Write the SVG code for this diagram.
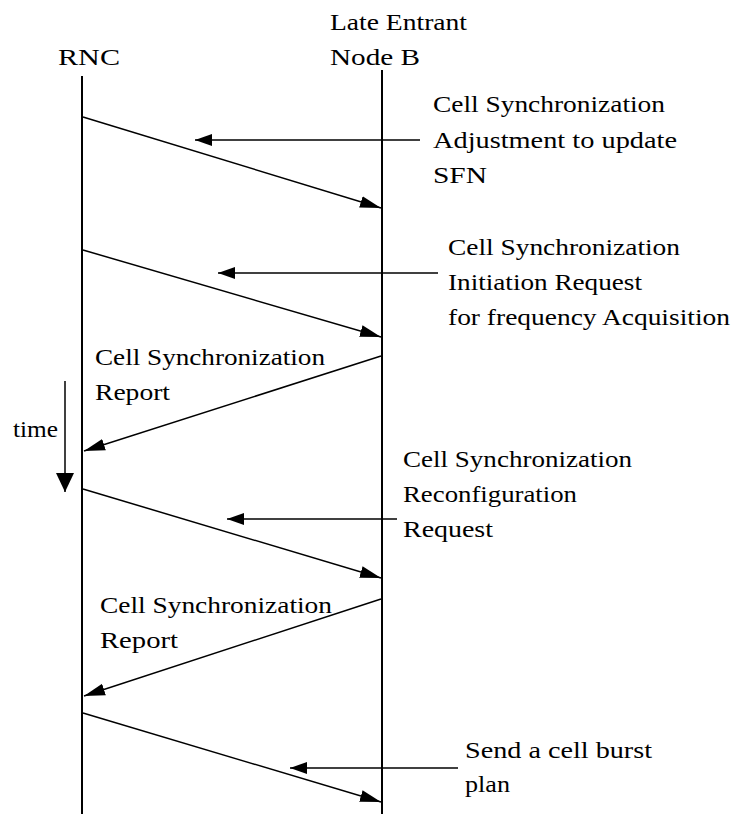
<svg xmlns="http://www.w3.org/2000/svg" width="733" height="814" viewBox="0 0 733 814">
  <defs>
    <style>
      text { font-family: "Liberation Serif", "Times New Roman", "DejaVu Serif", serif; font-size: 24px; fill: #000; }
      .life { stroke: #000; stroke-width: 2; fill: none; }
      .msg { stroke: #000; stroke-width: 1.5; fill: none; marker-end: url(#head); }
      .lbl { stroke: #000; stroke-width: 1.5; fill: none; marker-end: url(#lhead); }
      .time { stroke: #000; stroke-width: 1.5; fill: none; marker-end: url(#thead); }
    </style>
    <marker id="head" markerUnits="userSpaceOnUse" markerWidth="22" markerHeight="14" refX="21" refY="7" orient="auto">
      <path d="M0,1 L21,7 L0,13 Z" fill="#000"/>
    </marker>
    <marker id="lhead" markerUnits="userSpaceOnUse" markerWidth="18" markerHeight="14" refX="17" refY="7" orient="auto">
      <path d="M0,1 L17,7 L0,13 Z" fill="#000"/>
    </marker>
    <marker id="thead" markerUnits="userSpaceOnUse" markerWidth="20" markerHeight="20" refX="19" refY="9" orient="auto">
      <path d="M0,0 L19,9 L0,18 Z" fill="#000"/>
    </marker>
  </defs>

  <rect width="733" height="814" fill="#fff"/>

  <!-- participants -->
  <g id="rnc">
    <text x="58" y="65" textLength="62" lengthAdjust="spacingAndGlyphs">RNC</text>
    <line class="life" x1="82" y1="76" x2="82" y2="814"/>
  </g>
  <g id="node-b">
    <text x="330" y="30" textLength="137" lengthAdjust="spacingAndGlyphs">Late Entrant</text>
    <text x="330" y="65" textLength="90" lengthAdjust="spacingAndGlyphs">Node B</text>
    <line class="life" x1="382" y1="70" x2="382" y2="814"/>
  </g>

  <!-- time axis -->
  <g id="time-axis">
    <text x="13" y="437" textLength="45" lengthAdjust="spacingAndGlyphs">time</text>
    <line class="time" x1="65" y1="381" x2="65" y2="492"/>
  </g>

  <!-- messages -->
  <g id="connectors">
    <line class="msg" x1="83" y1="117" x2="381" y2="208"/>
    <line class="msg" x1="83" y1="250" x2="381" y2="337"/>
    <line class="msg" x1="381" y1="356" x2="84" y2="451"/>
    <line class="msg" x1="83" y1="489" x2="381" y2="578"/>
    <line class="msg" x1="381" y1="599" x2="84" y2="696"/>
    <line class="msg" x1="83" y1="713" x2="381" y2="802"/>

    <line class="lbl" x1="420" y1="140" x2="195" y2="140"/>
    <line class="lbl" x1="438" y1="273" x2="218" y2="273"/>
    <line class="lbl" x1="397" y1="519" x2="227" y2="519"/>
    <line class="lbl" x1="458" y1="768" x2="290" y2="768"/>
  </g>

  <!-- message labels -->
  <g id="label-adjustment">
    <text x="433" y="112" textLength="232" lengthAdjust="spacingAndGlyphs">Cell Synchronization</text>
    <text x="433" y="148" textLength="244" lengthAdjust="spacingAndGlyphs">Adjustment to update</text>
    <text x="433" y="183" textLength="54" lengthAdjust="spacingAndGlyphs">SFN</text>
  </g>
  <g id="label-initiation">
    <text x="448" y="255" textLength="232" lengthAdjust="spacingAndGlyphs">Cell Synchronization</text>
    <text x="448" y="290" textLength="194" lengthAdjust="spacingAndGlyphs">Initiation Request</text>
    <text x="448" y="325" textLength="282" lengthAdjust="spacingAndGlyphs">for frequency Acquisition</text>
  </g>
  <g id="label-report-1">
    <text x="95" y="365" textLength="230" lengthAdjust="spacingAndGlyphs">Cell Synchronization</text>
    <text x="95" y="400" textLength="75" lengthAdjust="spacingAndGlyphs">Report</text>
  </g>
  <g id="label-reconfiguration">
    <text x="403" y="467" textLength="229" lengthAdjust="spacingAndGlyphs">Cell Synchronization</text>
    <text x="403" y="502" textLength="174" lengthAdjust="spacingAndGlyphs">Reconfiguration</text>
    <text x="403" y="537" textLength="90" lengthAdjust="spacingAndGlyphs">Request</text>
  </g>
  <g id="label-report-2">
    <text x="100" y="613" textLength="232" lengthAdjust="spacingAndGlyphs">Cell Synchronization</text>
    <text x="100" y="648" textLength="78" lengthAdjust="spacingAndGlyphs">Report</text>
  </g>
  <g id="label-burst">
    <text x="465" y="758" textLength="187" lengthAdjust="spacingAndGlyphs">Send a cell burst</text>
    <text x="465" y="792" textLength="45" lengthAdjust="spacingAndGlyphs">plan</text>
  </g>
</svg>
